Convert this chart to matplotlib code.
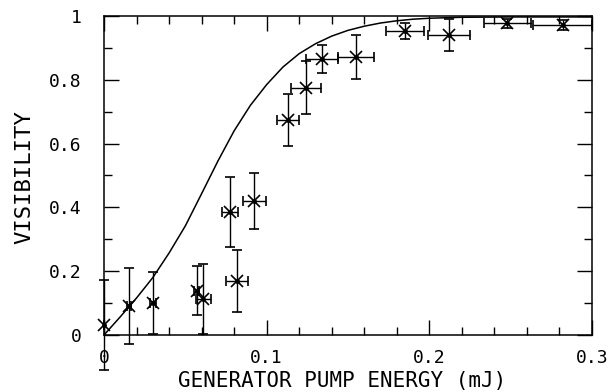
import numpy as np
import matplotlib.pyplot as plt
from matplotlib.ticker import MultipleLocator

# measured points (pump energy in mJ, visibility)
energy = [0.0, 0.0154, 0.030, 0.057, 0.061, 0.0775, 0.0816, 0.0924,
          0.1133, 0.1242, 0.134, 0.155, 0.185, 0.212, 0.248, 0.282]
vis = [0.031, 0.091, 0.099, 0.139, 0.112, 0.385, 0.170, 0.419,
       0.674, 0.775, 0.865, 0.871, 0.954, 0.940, 0.977, 0.972]
vis_err = [0.14, 0.12, 0.097, 0.076, 0.11, 0.11, 0.098, 0.088,
           0.08, 0.083, 0.043, 0.068, 0.025, 0.05, 0.015, 0.015]
energy_err = [0.0, 0.001, 0.002, 0.0015, 0.0045, 0.005, 0.0067, 0.0072,
              0.0067, 0.0095, 0.0097, 0.011, 0.0115, 0.013, 0.0146, 0.018]

# theory curve
curve_x = [0, 0.01, 0.02, 0.03, 0.04, 0.05, 0.06, 0.07, 0.08, 0.09, 0.10,
           0.11, 0.12, 0.13, 0.14, 0.15, 0.16, 0.17, 0.18, 0.19, 0.20,
           0.22, 0.25, 0.30]
curve_y = [0, 0.057, 0.116, 0.18, 0.257, 0.342, 0.443, 0.545, 0.64, 0.72,
           0.785, 0.84, 0.882, 0.913, 0.937, 0.955, 0.968, 0.978, 0.985,
           0.99, 0.993, 0.996, 0.997, 0.997]

font = 'DejaVu Sans Mono'

fig = plt.figure(figsize=(6.11, 3.92), dpi=100)
ax = fig.add_axes([104/611, 57/392, 488/611, 319/392])

ax.plot(curve_x, curve_y, color='black', lw=1.1)

eb = ax.errorbar(energy, vis, yerr=vis_err, xerr=energy_err, fmt='x',
                 color='black', ms=9, mew=1.2, elinewidth=1.0,
                 capsize=3.5, capthick=1.0)
for art in eb.lines[1] + eb.lines[2] + (eb.lines[0],):
    art.set_clip_on(False)
ax.plot(energy, vis, 'o', color='black', ms=2.5, clip_on=False)

ax.set_xlim(0, 0.3)
ax.set_ylim(0, 1)
ax.xaxis.set_minor_locator(MultipleLocator(0.02))
ax.yaxis.set_minor_locator(MultipleLocator(0.1))
ax.set_xticks([0, 0.1, 0.2, 0.3])
ax.set_xticklabels(['0', '0.1', '0.2', '0.3'], family=font, fontsize=13)
ax.set_yticks([0, 0.2, 0.4, 0.6, 0.8, 1.0])
ax.set_yticklabels(['0', '0.2', '0.4', '0.6', '0.8', '1'], family=font, fontsize=13)

ax.tick_params(which='both', direction='in', top=True, right=True, width=1.0)
ax.tick_params(which='major', length=11)
ax.tick_params(which='minor', length=6)
ax.tick_params(axis='x', which='major', pad=10)
ax.tick_params(axis='y', which='major', pad=16)
for s in ax.spines.values():
    s.set_linewidth(1.1)

ax.set_xlabel('GENERATOR PUMP ENERGY (mJ)', family=font, fontsize=15)
ax.xaxis.set_label_coords(0.487, -0.113)
ax.set_ylabel('VISIBILITY', family=font, fontsize=16)
ax.yaxis.set_label_coords(-0.143, 0.495)

fig.savefig('out.png', dpi=100)
